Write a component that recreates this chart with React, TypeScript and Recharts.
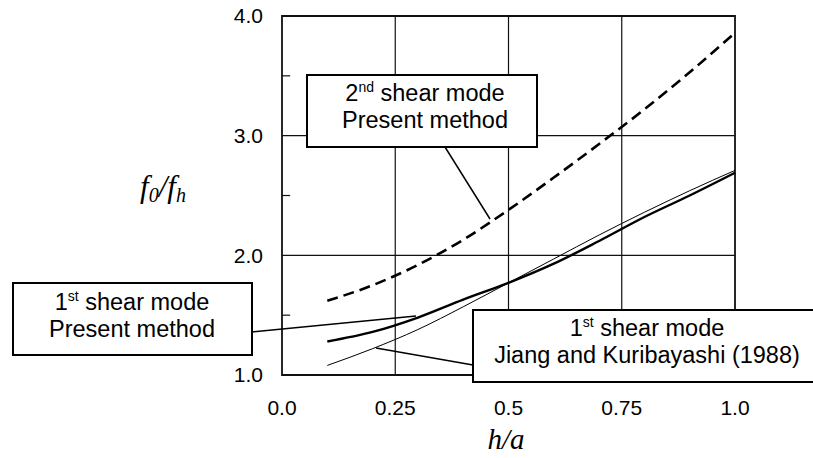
import React from 'react';
import { LineChart, Line, XAxis, YAxis, ReferenceLine, ReferenceArea } from 'recharts';

const hOverA = [0.1, 0.2, 0.3, 0.4, 0.5, 0.6, 0.7, 0.8, 0.9, 1.0];
const secondPresent = [1.62, 1.75, 1.92, 2.13, 2.38, 2.65, 2.93, 3.22, 3.53, 3.86];
const firstPresent = [1.28, 1.36, 1.48, 1.63, 1.77, 1.93, 2.12, 2.32, 2.5, 2.69];
const firstJiang = [1.08, 1.22, 1.38, 1.57, 1.77, 1.97, 2.17, 2.36, 2.54, 2.71];

const xTicks = [0, 0.25, 0.5, 0.75, 1.0];
const xTickLabels = ['0.0', '0.25', '0.5', '0.75', '1.0'];
const yTicks = [1, 2, 3, 4];
const yTickLabels = ['1.0', '2.0', '3.0', '4.0'];
const xGrid = [0.25, 0.5, 0.75];
const yGrid = [2, 3];
const yMinor = [1.5, 2.5, 3.5];

const data = hOverA.map((x, i) => ({
  x,
  second: secondPresent[i],
  first: firstPresent[i],
  jiang: firstJiang[i],
}));

const W = 813;
const H = 458;
const sans = '"Liberation Sans", Arial, sans-serif';
const serif = '"Liberation Serif", "Times New Roman", serif';

function Annotations() {
  const fs = 23.5;
  const sup = 14;
  return (
    <svg width={W} height={H} style={{ position: 'absolute', left: 0, top: 0, pointerEvents: 'none' }}>
      {/* 2nd shear mode box */}
      <line x1={445} y1={147} x2={490} y2={219} stroke="#000" strokeWidth={1.5} />
      <rect x={307} y={75} width={230} height={72} fill="#fff" stroke="#000" strokeWidth={2} />
      <text x={425} y={101} textAnchor="middle" fontFamily={sans} fontSize={fs} fill="#000">
        2<tspan fontSize={sup} dy={-9}>nd</tspan><tspan dy={9}> shear mode</tspan>
      </text>
      <text x={425} y={128} textAnchor="middle" fontFamily={sans} fontSize={fs} fill="#000">Present method</text>

      {/* 1st shear mode present box */}
      <line x1={252} y1={332} x2={416} y2={316} stroke="#000" strokeWidth={1.5} />
      <rect x={13} y={283} width={239} height={72} fill="#fff" stroke="#000" strokeWidth={2} />
      <text x={132} y={310} textAnchor="middle" fontFamily={sans} fontSize={fs} fill="#000">
        1<tspan fontSize={sup} dy={-9}>st</tspan><tspan dy={9}> shear mode</tspan>
      </text>
      <text x={132} y={337} textAnchor="middle" fontFamily={sans} fontSize={fs} fill="#000">Present method</text>

      {/* Jiang box */}
      <line x1={376} y1={348} x2={473} y2={365} stroke="#000" strokeWidth={1.5} />
      <rect x={473} y={310} width={350} height={72} fill="#fff" stroke="#000" strokeWidth={2} />
      <text x={647} y={336} textAnchor="middle" fontFamily={sans} fontSize={fs} fill="#000">
        1<tspan fontSize={sup} dy={-9}>st</tspan><tspan dy={9}> shear mode</tspan>
      </text>
      <text x={647} y={363} textAnchor="middle" fontFamily={sans} fontSize={fs} fill="#000">Jiang and Kuribayashi (1988)</text>

      {/* axis titles */}
      <text x={163} y={197} textAnchor="middle" fontFamily={serif} fontStyle="italic" fontSize={31} fill="#000">
        f<tspan fontSize={20} dy={5}>0</tspan><tspan dy={-5}>/f</tspan><tspan fontSize={20} dy={5}>h</tspan>
      </text>
      <text x={506} y={449} textAnchor="middle" fontFamily={serif} fontStyle="italic" fontSize={29} fill="#000">h/a</text>
    </svg>
  );
}

export default function App() {
  return (
    <div style={{ position: 'absolute', left: 0, top: 0, width: W, height: H, background: '#fff' }}>
      <LineChart width={W} height={H} data={data} margin={{ top: 16, right: 78, bottom: 43, left: 222 }}>
        <XAxis
          dataKey="x"
          type="number"
          domain={[0, 1]}
          ticks={xTicks}
          tickFormatter={(v: number) => xTickLabels[xTicks.indexOf(v)] ?? String(v)}
          axisLine={false}
          tickLine={false}
          tickSize={0}
          tickMargin={25}
          height={40}
          interval={0}
          tick={{ fill: '#000', fontSize: 21, fontFamily: sans }}
        />
        <YAxis
          type="number"
          domain={[1, 4]}
          ticks={yTicks}
          tickFormatter={(v: number) => yTickLabels[yTicks.indexOf(v)] ?? String(v)}
          axisLine={false}
          tickLine={false}
          tickSize={0}
          tickMargin={19}
          width={60}
          interval={0}
          tick={{ fill: '#000', fontSize: 21, fontFamily: sans }}
        />
        {xGrid.map((g) => (
          <ReferenceLine key={'vx' + g} x={g} stroke="#111" strokeWidth={1.2} />
        ))}
        {yGrid.map((g) => (
          <ReferenceLine key={'hy' + g} y={g} stroke="#111" strokeWidth={1.2} />
        ))}
        {yMinor.map((g) => (
          <ReferenceLine
            key={'mn' + g}
            segment={[{ x: 0, y: g }, { x: 0.018, y: g }]}
            stroke="#111"
            strokeWidth={1.2}
          />
        ))}
        <ReferenceArea x1={0} x2={1} y1={1} y2={4} fill="none" fillOpacity={0} stroke="#111" strokeWidth={1.8} />
        <Line type="monotone" dataKey="second" stroke="#000" strokeWidth={2.6} strokeDasharray="11 6" dot={false} isAnimationActive={false} />
        <Line type="monotone" dataKey="first" stroke="#000" strokeWidth={2.4} dot={false} isAnimationActive={false} />
        <Line type="monotone" dataKey="jiang" stroke="#000" strokeWidth={1} dot={false} isAnimationActive={false} />
      </LineChart>
      <Annotations />
    </div>
  );
}
